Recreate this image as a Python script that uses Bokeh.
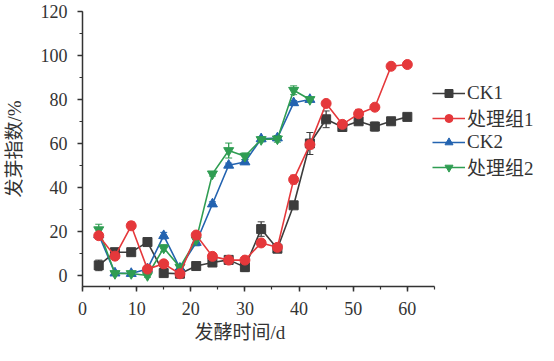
from bokeh.plotting import figure
from bokeh.models import ColumnDataSource, Whisker, Legend, LegendItem, Range1d, SingleIntervalTicker, Title
from bokeh.embed import file_html
from bokeh.resources import INLINE

# ---- data ----
days_a = [3, 6, 9, 12, 15, 18, 21, 24, 27, 30, 33, 36, 39, 42, 45, 48, 51, 54, 57, 60]
ck1 = [4.6, 10.6, 10.6, 15.2, 1.1, 0.8, 4.3, 5.9, 7.1, 3.8, 21.1, 12.2, 31.9, 60.0, 71.0, 67.5, 70.1, 67.7, 70.1, 72.1]
ck1_err = [2.4, 0.8, 0.8, 0.8, 0.8, 0.8, 0.8, 0.8, 0.8, 2.0, 3.3, 1.0, 1.0, 5.0, 3.8, 1.5, 1.5, 2.0, 0.8, 0.8]
t1 = [18.1, 8.8, 22.6, 2.9, 5.3, 0.8, 18.4, 8.7, 7.0, 7.0, 14.8, 12.8, 43.6, 59.5, 78.2, 68.7, 73.5, 76.5, 95.1, 95.9]
t1_err = [1.5, 1.2, 1.8, 0.8, 0.8, 0.8, 1.0, 1.0, 0.8, 0.8, 1.5, 1.0, 2.0, 2.0, 1.0, 1.5, 2.0, 1.0, 0.8, 0.8]

days_b = [3, 6, 9, 12, 15, 18, 21, 24, 27, 30, 33, 36, 39, 42]
ck2 = [18.5, 1.1, 0.9, 3.0, 18.1, 3.3, 15.0, 32.5, 50.1, 51.6, 62.1, 62.5, 78.5, 80.0]
ck2_err = [1.0, 0.8, 0.8, 0.8, 1.5, 0.8, 1.5, 1.0, 1.0, 1.0, 1.0, 1.0, 1.0, 0.8]
t2 = [20.8, 0.9, 0.9, 0.0, 12.5, 3.8, 16.2, 46.2, 56.8, 54.2, 61.8, 62.1, 84.2, 80.0]
t2_err = [2.5, 0.8, 0.8, 0.8, 1.5, 0.8, 1.0, 1.0, 3.4, 1.5, 1.0, 1.5, 2.0, 0.8]

x_ticks_max = 65
names = ["CK1", "处理组1", "CK2", "处理组2"]
colors = ["#3c3c3c", "#e5383b", "#2363b0", "#2f9d52"]
markers = ["square", "circle", "triangle", "inverted_triangle"]
msizes = [9, 10, 10, 10]
legend_msizes = [7, 8, 8, 8]

FONT = "'Liberation Serif', 'Noto Sans CJK SC'"

W, H = 538, 345
BL, BT, BB, BR = 78, 11, 59, 0
axis_px = 355                       # length of the drawn x axis in pixels
frame_w = W - BL - BR
x_end = x_ticks_max * frame_w / axis_px   # extra room on the right holds the legend

p = figure(width=W, height=H, x_range=Range1d(0, x_end), y_range=Range1d(-5, 120),
           output_backend="svg", toolbar_location=None,
           min_border_left=BL, min_border_top=BT, min_border_bottom=BB, min_border_right=BR)
p.grid.visible = False
p.outline_line_color = None
p.background_fill_color = "white"

p.xaxis.ticker = SingleIntervalTicker(interval=10, num_minor_ticks=2)
p.yaxis.ticker = SingleIntervalTicker(interval=20, num_minor_ticks=2)
p.xaxis.bounds = (0, x_ticks_max)
for ax in (p.xaxis, p.yaxis):
    ax.axis_line_color = "#333333"
    ax.axis_line_width = 1.5
    ax.major_tick_line_color = "#333333"
    ax.minor_tick_line_color = "#333333"
    ax.major_tick_line_width = 1.5
    ax.minor_tick_line_width = 1.2
    ax.major_tick_out = 5
    ax.major_tick_in = 0
    ax.minor_tick_out = 3
    ax.minor_tick_in = 0
    ax.major_label_text_font = FONT
    ax.major_label_text_font_size = "18px"
    ax.major_label_text_color = "#333333"
    ax.axis_label_text_font = FONT
    ax.axis_label_text_font_size = "19px"
    ax.axis_label_text_font_style = "normal"
    ax.axis_label_text_color = "#333333"
p.yaxis.axis_label = "发芽指数/%"
p.xaxis.major_label_standoff = 10
p.yaxis.major_label_standoff = 10
p.yaxis.axis_label_standoff = 13

# x-axis title, centred under the drawn axis rather than the whole frame
xt = Title(text="发酵时间/d", align="left", offset=112, standoff=5,
           text_font=FONT, text_font_size="19px", text_font_style="normal",
           text_color="#333333")
p.add_layout(xt, "below")

series = [
    (days_a, ck1, ck1_err),
    (days_a, t1, t1_err),
    (days_b, ck2, ck2_err),
    (days_b, t2, t2_err),
]

nan = float("nan")
items = {}
order = [0, 2, 3, 1]
for i in order:
    xs, ys, es = series[i]
    src = ColumnDataSource(dict(x=xs, y=ys,
                                lo=[a - b for a, b in zip(ys, es)],
                                hi=[a + b for a, b in zip(ys, es)]))
    w = Whisker(base="x", upper="hi", lower="lo", source=src,
                line_color=colors[i], line_width=1.3)
    w.upper_head.line_color = colors[i]
    w.lower_head.line_color = colors[i]
    w.upper_head.size = 7
    w.lower_head.size = 7
    p.add_layout(w)
    p.line("x", "y", source=src, line_color=colors[i], line_width=1.6)
    p.scatter("x", "y", source=src, marker=markers[i], size=msizes[i],
              fill_color=colors[i], line_color=colors[i])
    # legend-only glyphs (smaller markers, as in the reference legend); no visible data
    dummy = ColumnDataSource(dict(x=[nan], y=[nan]))
    lln = p.line("x", "y", source=dummy, line_color=colors[i], line_width=1.6)
    lsc = p.scatter("x", "y", source=dummy, marker=markers[i], size=legend_msizes[i],
                    fill_color=colors[i], line_color=colors[i])
    items[i] = LegendItem(label=names[i], renderers=[lln, lsc])

legend = Legend(items=[items[k] for k in range(4)])
legend.border_line_color = None
legend.background_fill_alpha = 0
legend.padding = 0
legend.margin = 0
legend.spacing = -3
legend.glyph_width = 33
legend.glyph_height = 20
legend.label_height = 20
legend.label_text_line_height = 1.0
legend.label_standoff = 2
legend.label_text_font = FONT
legend.label_text_font_size = "19px"
legend.label_text_color = "#333333"
legend.location = (axis_px - 5, 106)
p.add_layout(legend)

open("out.html", "w").write(file_html(p, INLINE))
